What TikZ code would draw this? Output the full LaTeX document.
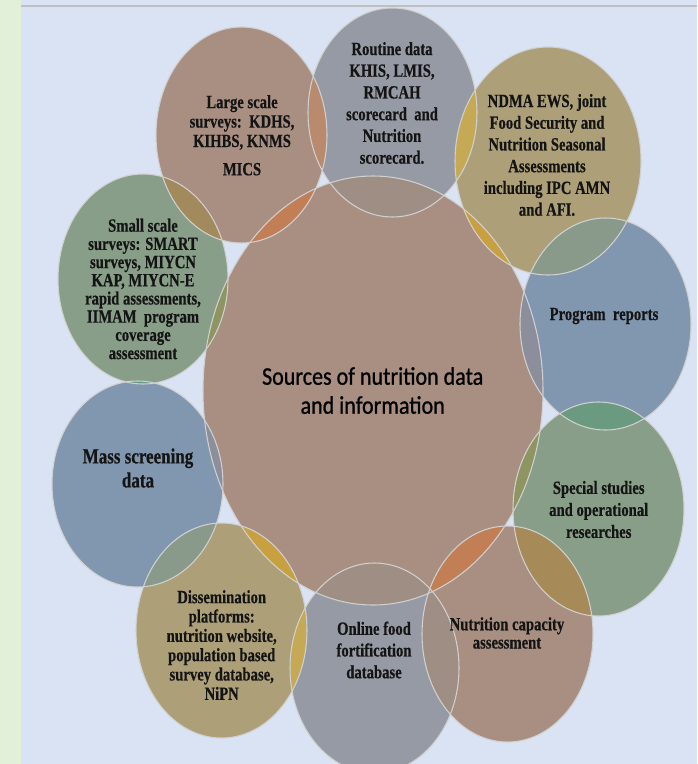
\documentclass[tikz,border=0pt]{standalone}
\usepackage{fontspec}
\newfontfamily\satfont{Liberation Serif}[FakeStretch=0.786, FakeBold=0.4]
\newfontfamily\cenfont{Carlito}[FakeStretch=0.87, FakeBold=0.9]
\definecolor{pagebg}{HTML}{DAE3F3}
\definecolor{stripbg}{HTML}{E2EFD9}
\definecolor{ruleline}{HTML}{BFBFBF}
\definecolor{cBrown}{HTML}{A88F82}
\definecolor{cGray}{HTML}{969AA4}
\definecolor{cOlive}{HTML}{ADA078}
\definecolor{cBlue}{HTML}{8197B0}
\definecolor{cGreen}{HTML}{889E88}
% colours where two bubbles overlap
\definecolor{oOrange}{HTML}{C27F56}
\definecolor{oBrGray}{HTML}{9F8E84}
\definecolor{oGold}{HTML}{C9A040}
\definecolor{oBrBlue}{HTML}{8C8E9C}
\definecolor{oBrGreen}{HTML}{8E9560}
\definecolor{oLgRt}{HTML}{B98A6E}
\definecolor{oLgSm}{HTML}{A28A5C}
\definecolor{oGoldLt}{HTML}{C6A955}
\definecolor{oOlBl}{HTML}{8A9A8A}
\definecolor{oGrBl}{HTML}{6A9A80}
\definecolor{oGrBr}{HTML}{A68A58}
\definecolor{edgecol}{HTML}{D0D0D0}
\tikzset{
  sCentral/.style={insert path={(373,390.5) ellipse [x radius=170, y radius=214.5]}},
  sLarge/.style={insert path={(241.5,135) ellipse [x radius=85.5, y radius=108]}},
  sRoutine/.style={insert path={(392.5,112.5) ellipse [x radius=84.5, y radius=104.5]}},
  sNdma/.style={insert path={(548,161) ellipse [x radius=93, y radius=114]}},
  sProgram/.style={insert path={(605.5,324) ellipse [x radius=85.5, y radius=106]}},
  sSpecial/.style={insert path={(598.5,509) ellipse [x radius=85.5, y radius=107]}},
  sCapacity/.style={insert path={(507.5,634) ellipse [x radius=85.5, y radius=108]}},
  sOnline/.style={insert path={(374.5,668) ellipse [x radius=84.5, y radius=105]}},
  sDissem/.style={insert path={(221.5,630.5) ellipse [x radius=85.5, y radius=107.5]}},
  sMass/.style={insert path={(137.5,484) ellipse [x radius=85.5, y radius=103]}},
  sSmall/.style={insert path={(143,279) ellipse [x radius=85, y radius=105]}},
  rim/.style={draw=edgecol, line width=0.8pt},
  sat/.style={font=\satfont\bfseries\fontsize{14}{#1}\selectfont, align=center, text=black!92, inner sep=0pt},
  sat/.default=16.3,
}
% fill the part of shape #2 that lies inside shape #1
\newcommand\ovl[3]{\begin{scope}\clip[#1];\fill[#3,#2];\end{scope}}
\begin{document}
\begin{tikzpicture}[x=0.75pt,y=-0.75pt]
\useasboundingbox (0,0) rectangle (697,764);
\fill[pagebg] (0,0) rectangle (697,764);
\fill[stripbg] (0,0) rectangle (21,764);
\draw[ruleline, line width=1.5pt] (21,5.5) -- (697,5.5);

% bubbles
\fill[cBrown, sCentral];
\fill[cBrown, sLarge];
\fill[cGray, sRoutine];
\fill[cOlive, sNdma];
\fill[cBlue, sProgram];
\fill[cGreen, sSpecial];
\fill[cBrown, sCapacity];
\fill[cGray, sOnline];
\fill[cOlive, sDissem];
\fill[cBlue, sMass];
\fill[cGreen, sSmall];

% overlaps with the centre
\ovl{sCentral}{sLarge}{oOrange}
\ovl{sCentral}{sRoutine}{oBrGray}
\ovl{sCentral}{sNdma}{oGold}
\ovl{sCentral}{sProgram}{oBrBlue}
\ovl{sCentral}{sSpecial}{oBrGreen}
\ovl{sCentral}{sCapacity}{oOrange}
\ovl{sCentral}{sOnline}{oBrGray}
\ovl{sCentral}{sDissem}{oGold}
\ovl{sCentral}{sMass}{oBrBlue}
\ovl{sCentral}{sSmall}{oBrGreen}
% overlaps between neighbours
\ovl{sLarge}{sRoutine}{oLgRt}
\ovl{sLarge}{sSmall}{oLgSm}
\ovl{sRoutine}{sNdma}{oGoldLt}
\ovl{sNdma}{sProgram}{oOlBl}
\ovl{sProgram}{sSpecial}{oGrBl}
\ovl{sSpecial}{sCapacity}{oGrBr}
\ovl{sCapacity}{sOnline}{oBrGray}
\ovl{sOnline}{sDissem}{oGoldLt}
\ovl{sDissem}{sMass}{oOlBl}
\ovl{sMass}{sSmall}{oGrBl}

% rims
\foreach \s in {sCentral,sLarge,sRoutine,sNdma,sProgram,sSpecial,sCapacity,sOnline,sDissem,sMass,sSmall}
  \path[rim, \s];

% labels
\node[font=\cenfont\fontsize{19}{21.75}\selectfont, align=center, inner sep=0pt] (central) at (372.7,390.5)
  {Sources of nutrition data\\and information};
\node[sat=14.6] (large) at (242,135.3) {Large scale\\surveys:\ \ KDHS,\\KIHBS, KNMS\\[6.6pt]MICS};
\node[sat] (routine) at (392,103) {Routine data\\KHIS, LMIS,\\RMCAH\\scorecard\ \ and\\Nutrition\\scorecard.};
\node[sat] (ndma) at (547,155) {NDMA EWS, joint\\Food Security and\\Nutrition Seasonal\\Assessments\\including IPC AMN\\and AFI.};
\node[sat] (program) at (604,316) {Program\ \ reports};
\node[sat=16.5] (special) at (598.7,509.5) {Special studies\\and operational\\researches};
\node[sat=13.7] (capacity) at (507,633) {Nutrition capacity\\assessment};
\node[sat] (online) at (374,650) {Online food\\fortification\\database};
\node[sat=14.5] (dissem) at (221.7,645) {Dissemination\\platforms:\\nutrition website,\\population based\\survey database,\\NiPN};
\node[font=\satfont\bfseries\fontsize{16.2}{18}\selectfont, align=center, text=black!92, inner sep=0pt] (mass) at (138,468) {Mass screening\\data};
\node[sat=13.65] (small) at (143,289) {Small scale\\surveys: SMART\\surveys, MIYCN\\KAP, MIYCN-E\\rapid assessments,\\IIMAM\ \ program\\coverage\\assessment};
\end{tikzpicture}
\end{document}
